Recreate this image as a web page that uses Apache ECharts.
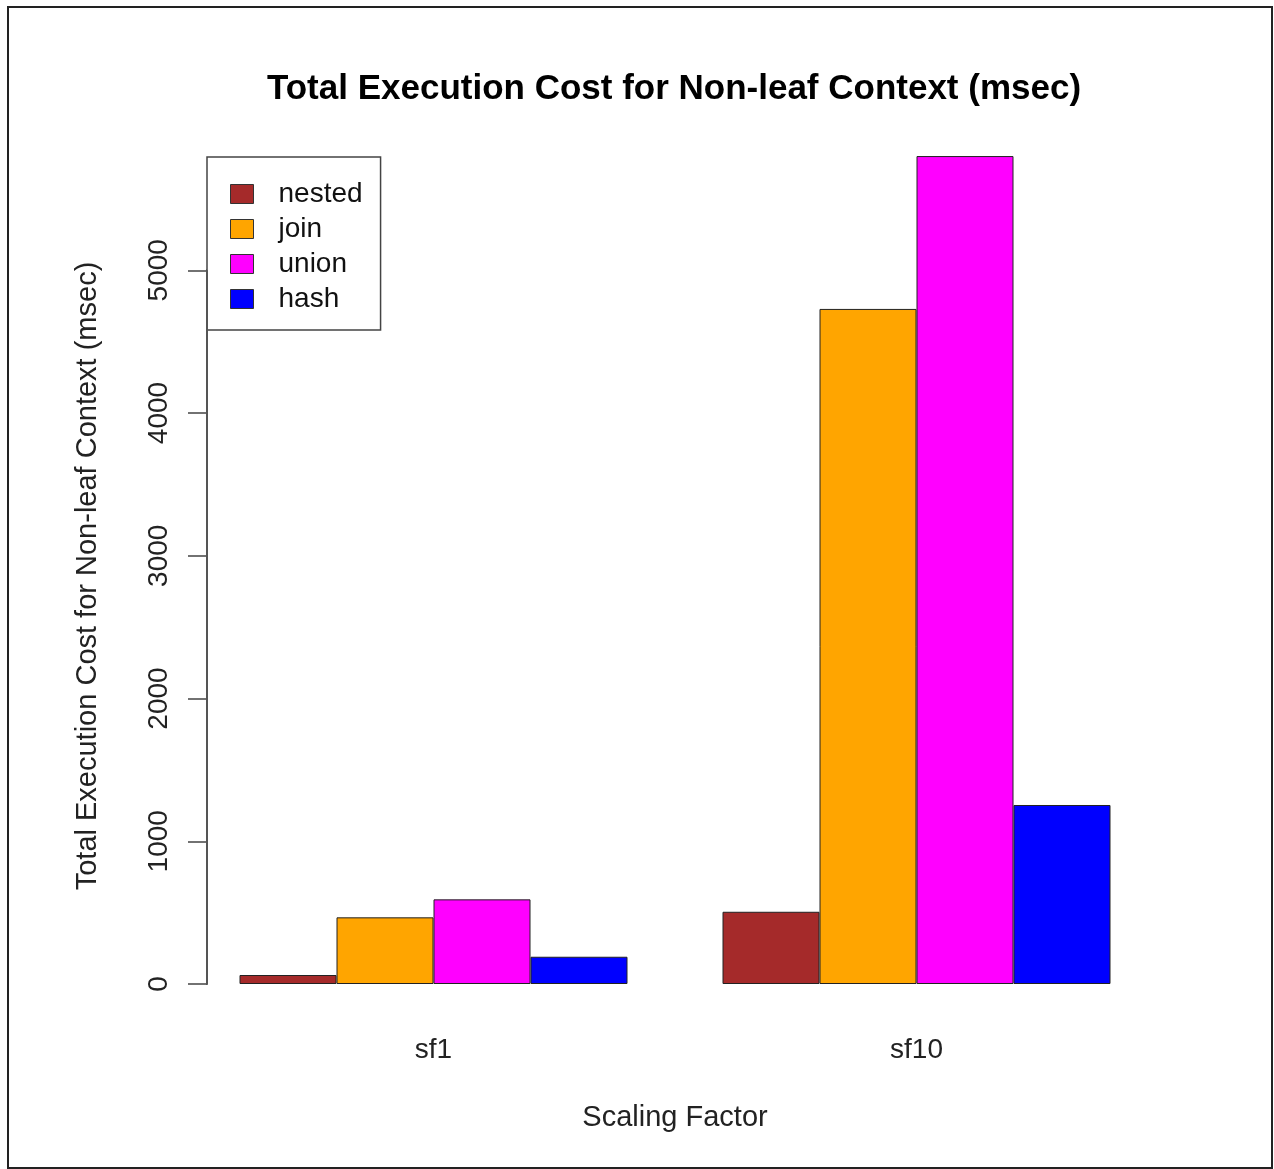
<!DOCTYPE html>
<html>
<head>
<meta charset="utf-8">
<script src="https://cdn.jsdelivr.net/npm/echarts@6/dist/echarts.min.js"></script>
<style>
  html, body { margin: 0; padding: 0; background: #fff; }
  #chart { width: 1274px; height: 1169px; }
</style>
</head>
<body>
<div id="chart"></div>
<script>
// Scaling factors on the x axis
const categories = ['sf1', 'sf10'];
// Total execution cost (msec) per strategy
const nested = [63, 506];
const join = [467, 4729];
const union = [593, 5800];
const hash = [191, 1254];
// Y axis tick range
const yMin = 0;
const yMax = 5000;
const yStep = 1000;

const FONT = '"Liberation Sans", Arial, Helvetica, sans-serif';
const GRID = { left: 192, right: 116, top: 270.25, bottom: 185 };
const AXIS_X = 207; // y axis sits slightly inside the grid's left edge
const chart = echarts.init(document.getElementById('chart'), null, { renderer: 'canvas' });

function barSeries(name, data, color) {
  return {
    name: name,
    type: 'bar',
    data: data,
    barWidth: 97,
    barGap: '0%',
    clip: false, // tallest bar rises above the last tick, as in base R barplots
    itemStyle: { color: color, borderColor: '#222', borderWidth: 1 },
    emphasis: { disabled: true }
  };
}

const option = {
  backgroundColor: '#fff',
  animation: false,
  title: {
    text: 'Total Execution Cost for Non-leaf Context (msec)',
    left: 669,
    textAlign: 'center',
    top: 67,
    textStyle: { fontFamily: FONT, fontSize: 35, fontWeight: 'bold', color: '#000' }
  },
  legend: {
    left: 207,
    top: 157,
    z: 20,
    orient: 'vertical',
    icon: 'rect',
    itemWidth: 23,
    itemHeight: 19,
    itemGap: 7,
    padding: [23, 18, 17, 23],
    backgroundColor: '#fff',
    borderColor: '#444',
    borderWidth: 1.5,
    borderRadius: 0,
    selectedMode: false,
    itemStyle: { borderColor: '#333', borderWidth: 1 },
    textStyle: { fontFamily: FONT, fontSize: 28, color: '#111', padding: [0, 0, 0, 20], lineHeight: 20 },
    data: ['nested', 'join', 'union', 'hash']
  },
  // plot area spans exactly the tick range 0..5000
  grid: Object.assign({ containLabel: false }, GRID),
  xAxis: {
    type: 'category',
    data: categories,
    axisLine: { show: false },
    axisTick: { show: false },
    axisLabel: { fontFamily: FONT, fontSize: 28, color: '#222', margin: 52 }
  },
  yAxis: {
    type: 'value',
    min: yMin,
    max: yMax,
    interval: yStep,
    offset: GRID.left - AXIS_X,
    splitLine: { show: false },
    axisLine: { show: true, onZero: false, lineStyle: { color: '#444', width: 2 } },
    axisTick: { show: true, length: 19, lineStyle: { color: '#444', width: 1.5 } },
    axisLabel: {
      fontFamily: FONT, fontSize: 28, color: '#222', rotate: 90, margin: 34,
      formatter: function (v) { return String(v); }
    }
  },
  graphic: [
    {
      // y axis line over the tick range
      type: 'rect', z: 100,
      shape: { x: AXIS_X - 1, y: GRID.top, width: 2, height: 1169 - GRID.bottom - GRID.top },
      style: { fill: '#555', stroke: null }
    },
    {
      type: 'text', z: 10,
      x: 88, y: 576, rotation: Math.PI / 2,
      style: {
        text: 'Total Execution Cost for Non-leaf Context (msec)',
        fontFamily: FONT, fontSize: 29, fill: '#222',
        textAlign: 'center', textVerticalAlign: 'middle'
      }
    },
    {
      type: 'text', z: 10,
      x: 675, y: 1118,
      style: {
        text: 'Scaling Factor',
        fontFamily: FONT, fontSize: 29, fill: '#222',
        textAlign: 'center', textVerticalAlign: 'middle'
      }
    },
    {
      // outer frame
      type: 'rect', z: 10,
      shape: { x: 8, y: 7, width: 1264, height: 1161 },
      style: { fill: null, stroke: '#222', lineWidth: 2 }
    }
  ],
  series: [
    barSeries('nested', nested, '#A52A2A'),
    barSeries('join', join, '#FFA500'),
    barSeries('union', union, '#FF00FF'),
    barSeries('hash', hash, '#0000FF')
  ]
};
chart.setOption(option);
</script>
</body>
</html>
